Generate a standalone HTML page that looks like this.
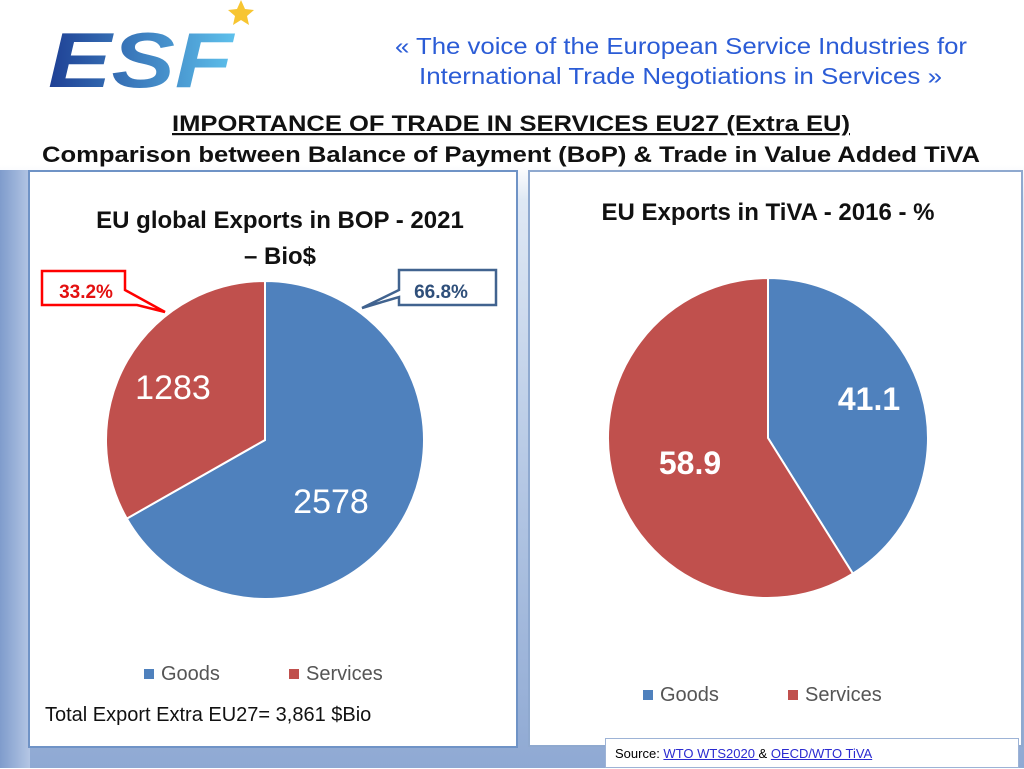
<!DOCTYPE html>
<html><head><meta charset="utf-8"><style>
body{margin:0;width:1024px;height:768px;overflow:hidden;font-family:"Liberation Sans",sans-serif;}
#root{position:relative;width:1024px;height:768px;background:linear-gradient(180deg,#fff 0,#fff 165px,#dfe8f4 200px,#b9cbe6 450px,#8fa9d3 768px);}
.abs{position:absolute;}
</style></head><body>
<div id="root">
<div class="abs" style="left:0;top:170px;width:30px;height:598px;background:linear-gradient(90deg,#7f9ccc,#b4c6e4);"></div>
<svg class="abs" style="left:0;top:0" width="1024" height="768">
<defs><linearGradient id="lg" x1="0" x2="1"><stop offset="0" stop-color="#1e3f94"/><stop offset="1" stop-color="#5ec1ec"/></linearGradient></defs>
<g>
<text x="48" y="87" font-family="Liberation Sans" font-weight="bold" font-style="italic" font-size="78" fill="url(#lg)" textLength="185" lengthAdjust="spacingAndGlyphs">ESF</text>
<polygon points="241,0 245,9 254,10 247,16 249,25 241,20 233,25 235,16 228,10 237,9" fill="#f7c531"/>
</g>
<g font-family="Liberation Sans" font-size="23" fill="#2b5cd6">
<text x="395" y="54" textLength="572" lengthAdjust="spacingAndGlyphs">« The voice of the European Service Industries for</text>
<text x="419" y="84" textLength="523" lengthAdjust="spacingAndGlyphs">International Trade Negotiations in Services »</text>
</g>
<text x="172" y="131" font-family="Liberation Sans" font-weight="bold" font-size="22" fill="#111" text-decoration="underline" textLength="678" lengthAdjust="spacingAndGlyphs">IMPORTANCE OF TRADE IN SERVICES EU27 (Extra EU)</text>
<text x="42" y="162" font-family="Liberation Sans" font-weight="bold" font-size="22" fill="#111" textLength="938" lengthAdjust="spacingAndGlyphs">Comparison between Balance of Payment (BoP) &amp; Trade in Value Added TiVA</text>
</svg>

<div class="abs" style="left:28px;top:170px;width:486px;height:574px;background:#fff;border:2px solid #6f93c6;"></div>
<div class="abs" style="left:528px;top:170px;width:491px;height:573px;background:#fff;border:2px solid #8fa9cf;"></div>

<svg id="charts" class="abs" style="left:0;top:0" width="1024" height="768"></svg>

<div class="abs" style="left:60px;top:203px;width:440px;text-align:center;font-size:24px;font-weight:bold;line-height:36px;color:#111;">EU global Exports in BOP - 2021<br>– Bio$</div>
<div class="abs" style="left:548px;top:199px;width:440px;text-align:center;font-size:24px;font-weight:bold;color:#111;">EU Exports in TiVA - 2016 - %</div>
<div class="abs" style="left:45px;top:704px;font-size:20px;color:#111;">Total Export Extra EU27= 3,861 $Bio</div>
<div class="abs" style="left:605px;top:738px;width:414px;height:30px;background:#fff;border:1px solid #9db3d6;font-size:13px;line-height:30px;padding-left:9px;box-sizing:border-box;">Source: <a style="color:#2a2ad0;text-decoration:underline">WTO WTS2020 </a>&amp; <a style="color:#2a2ad0;text-decoration:underline">OECD/WTO TiVA</a></div>

<script>
const categories=["Goods","Services"];
const bopValues=[2578,1283];
const bopPct=["66.8%","33.2%"];
const tivaValues=[41.1,58.9];
const colors=["#4f81bd","#c0504d"];
const NS="http://www.w3.org/2000/svg";
const svg=document.getElementById('charts');
function mk(t,a){const e=document.createElementNS(NS,t);for(const k in a)e.setAttribute(k,a[k]);svg.appendChild(e);return e;}
function angle(frac){return frac*2*Math.PI-Math.PI/2;}
function pt(cx,cy,r,a){return [cx+r*Math.cos(a),cy+r*Math.sin(a)];}
function pie(vals,cx,cy,r,name,labelFn){
  const tot=vals.reduce((a,b)=>a+b,0);let cum=0;
  vals.forEach((v,i)=>{
    const a0=angle(cum/tot),a1=angle((cum+v)/tot);
    const p0=pt(cx,cy,r,a0),p1=pt(cx,cy,r,a1);
    const large=(v/tot)>0.5?1:0;
    const p=mk('path',{d:`M${cx},${cy}L${p0[0]},${p0[1]}A${r},${r} 0 ${large} 1 ${p1[0]},${p1[1]}Z`,fill:colors[i],stroke:'#fff','stroke-width':2});
    
    
    const mid=angle((cum+v/2)/tot);
    const lp=pt(cx,cy,r*0.62,mid);
    labelFn(i,v,lp);
    cum+=v;
  });
}
pie(bopValues,265,440,159,'bop',(i,v,lp)=>{
  const t=mk('text',{x:i==0?331:173,y:i==0?513:399,'text-anchor':'middle','font-size':34,fill:'#fff','font-family':'Liberation Sans'});
  t.textContent=v;
  
  
});
pie(tivaValues,768,438,160,'tiva',(i,v,lp)=>{
  const t=mk('text',{x:i==0?869:690,y:i==0?410:474,'text-anchor':'middle','font-size':32,'font-weight':'bold',fill:'#fff','font-family':'Liberation Sans'});
  t.textContent=v;
  
  
});
const c1=mk('path',{d:'M42,271H125V290L165,312L137,305V305H42Z',fill:'#fff',stroke:'#ff0000','stroke-width':2.5});


const t1=mk('text',{x:86,y:298,'text-anchor':'middle','font-size':19,'font-weight':'bold',fill:'#e31010','font-family':'Liberation Sans'});
t1.textContent=bopPct[1];


const c2=mk('path',{d:'M399,270H496V305H399V297L362,308L399,290Z',fill:'#fff',stroke:'#41638f','stroke-width':2.5});


const t2=mk('text',{x:441,y:298,'text-anchor':'middle','font-size':19,'font-weight':'bold',fill:'#2f4f7a','font-family':'Liberation Sans'});
t2.textContent=bopPct[0];


function legend(x,y,name){
  categories.forEach((c,i)=>{
    const lx=x+i*145;
    const r=mk('rect',{x:lx,y:y-11,width:10,height:10,fill:colors[i]});
    
    
    const t=mk('text',{x:lx+17,y:y,'font-size':20,fill:'#555','font-family':'Liberation Sans'});
    t.textContent=c;
    
    
  });
}
legend(144,680,'bop');
legend(643,701,'tiva');
</script>
</div>
</body></html>
